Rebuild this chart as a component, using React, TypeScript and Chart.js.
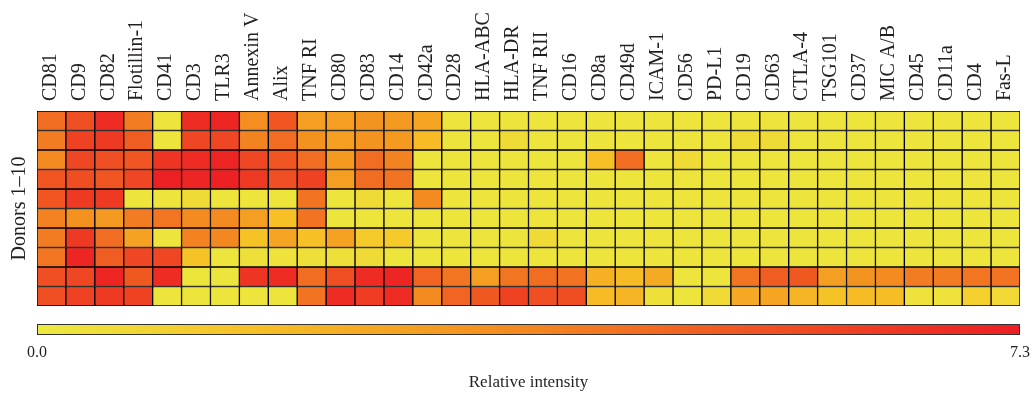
import React, { useEffect, useRef } from "react";
import { Chart, registerables } from "chart.js";

Chart.register(...registerables);

const markers = [
  "CD81", "CD9", "CD82", "Flotillin-1", "CD41", "CD3", "TLR3", "Annexin V", "Alix", "TNF RI",
  "CD80", "CD83", "CD14", "CD42a", "CD28", "HLA-ABC", "HLA-DR", "TNF RII", "CD16", "CD8a",
  "CD49d", "ICAM-1", "CD56", "PD-L1", "CD19", "CD63", "CTLA-4", "TSG101", "CD37", "MIC A/B",
  "CD45", "CD11a", "CD4", "Fas-L",
];

const donorNames = ["Donor 1", "Donor 2", "Donor 3", "Donor 4", "Donor 5", "Donor 6", "Donor 7", "Donor 8", "Donor 9", "Donor 10"];

const donor1 = [4.5, 5.5, 6.8, 4.0, 0.2, 6.8, 7.0, 3.4, 5.3, 2.8, 2.8, 3.2, 3.0, 2.6, 0.2, 0.2, 0.2, 0.2, 0.2, 0.2, 0.2, 0.2, 0.2, 0.2, 0.2, 0.2, 0.2, 0.2, 0.2, 0.2, 0.2, 0.2, 0.2, 0.2];
const donor2 = [4.0, 6.0, 6.3, 5.0, 0.2, 5.8, 5.8, 3.8, 4.5, 3.3, 2.8, 3.2, 3.0, 1.8, 0.2, 0.2, 0.6, 0.2, 0.2, 0.2, 0.2, 0.2, 0.2, 0.2, 0.6, 0.6, 0.2, 0.2, 0.2, 0.2, 0.2, 0.2, 0.2, 0.2];
const donor3 = [3.5, 5.8, 5.5, 5.3, 6.5, 6.8, 7.0, 5.8, 5.3, 4.5, 3.0, 4.5, 3.8, 0.2, 0.2, 0.2, 0.2, 0.2, 0.2, 1.6, 4.5, 0.2, 0.6, 0.2, 0.2, 0.2, 0.2, 0.2, 0.2, 0.2, 0.2, 0.2, 0.2, 0.2];
const donor4 = [5.3, 5.6, 5.3, 5.8, 7.2, 7.0, 7.2, 6.3, 5.5, 6.0, 2.8, 4.5, 4.3, 0.2, 0.2, 0.2, 0.2, 0.2, 0.2, 0.2, 0.2, 0.2, 0.2, 0.2, 0.2, 0.2, 0.2, 0.2, 0.2, 0.2, 0.2, 0.2, 0.2, 0.2];
const donor5 = [5.3, 6.3, 6.3, 0.2, 0.2, 0.6, 0.2, 0.2, 0.2, 4.3, 0.2, 0.6, 0.2, 3.5, 0.2, 0.2, 0.2, 0.2, 0.2, 0.2, 0.2, 0.2, 0.2, 0.2, 0.2, 0.2, 0.2, 0.2, 0.2, 0.2, 0.2, 0.2, 0.2, 0.2];
const donor6 = [3.8, 3.3, 3.0, 4.0, 4.2, 3.5, 3.5, 2.8, 1.6, 4.3, 0.2, 0.2, 0.2, 0.2, 0.2, 0.2, 0.2, 0.2, 0.2, 0.2, 0.2, 0.2, 0.2, 0.2, 0.2, 0.2, 0.2, 0.2, 0.2, 0.2, 0.2, 0.2, 0.2, 0.2];
const donor7 = [4.0, 6.3, 4.5, 2.7, 0.2, 3.8, 3.6, 1.5, 2.6, 1.6, 2.7, 1.2, 1.2, 0.2, 0.2, 0.2, 0.2, 0.6, 0.2, 0.2, 0.2, 0.2, 0.2, 0.2, 0.2, 0.2, 0.2, 0.2, 0.2, 0.2, 0.2, 0.2, 0.2, 0.2];
const donor8 = [4.2, 7.0, 5.0, 5.8, 5.8, 1.5, 0.2, 0.4, 0.3, 0.4, 0.4, 0.6, 0.2, 0.2, 0.2, 0.2, 0.2, 0.2, 0.2, 0.2, 0.2, 0.2, 0.2, 0.2, 0.2, 0.2, 0.2, 0.2, 0.2, 0.2, 0.2, 0.2, 0.2, 0.2];
const donor9 = [5.5, 5.8, 7.0, 5.2, 6.8, 0.2, 0.2, 6.5, 6.8, 4.5, 5.5, 6.8, 7.0, 4.8, 4.2, 2.8, 4.2, 4.5, 4.3, 2.2, 1.8, 2.4, 0.2, 0.2, 4.2, 5.0, 5.2, 2.8, 3.2, 3.5, 4.0, 4.0, 4.2, 4.3];
const donor10 = [5.5, 6.0, 6.3, 6.0, 0.2, 0.2, 0.2, 0.2, 0.2, 4.3, 6.8, 6.2, 6.8, 3.5, 4.8, 5.2, 6.0, 5.5, 5.6, 1.8, 2.0, 0.4, 0.2, 0.6, 2.5, 2.6, 2.0, 1.5, 1.8, 1.7, 0.3, 0.3, 1.0, 0.7];

const donorRows = [donor1, donor2, donor3, donor4, donor5, donor6, donor7, donor8, donor9, donor10];

const scaleMin = 0;
const scaleMax = 7.3;
const colorbarTicks = ["0.0", "7.3"];

// colour ramp stops (fraction of range, rgb)
const rampStops: [number, number[]][] = [
  [0, [236, 234, 64]],
  [0.2, [246, 196, 38]],
  [0.45, [244, 146, 32]],
  [0.7, [240, 90, 34]],
  [1, [237, 30, 36]],
];

function colorFor(v: number): string {
  const t = Math.max(0, Math.min(1, (v - scaleMin) / (scaleMax - scaleMin)));
  for (let i = 1; i < rampStops.length; i++) {
    const [t1, c1] = rampStops[i];
    const [t0, c0] = rampStops[i - 1];
    if (t <= t1) {
      const f = (t - t0) / (t1 - t0);
      const c = c0.map((a, k) => Math.round(a + (c1[k] - a) * f));
      return `rgb(${c[0]},${c[1]},${c[2]})`;
    }
  }
  const c = rampStops[rampStops.length - 1][1];
  return `rgb(${c[0]},${c[1]},${c[2]})`;
}

const SERIF = "'Liberation Serif', 'Times New Roman', serif";

const colorbarPlugin = {
  id: "colorbar",
  afterDraw(chart: any) {
    const { ctx, chartArea } = chart;
    const x0 = chartArea.left;
    const x1 = chartArea.right;
    const y0 = chartArea.bottom + 18;
    const h = 11;
    ctx.save();
    const g = ctx.createLinearGradient(x0, 0, x1, 0);
    rampStops.forEach(([t, c]) => g.addColorStop(t, `rgb(${c[0]},${c[1]},${c[2]})`));
    ctx.fillStyle = g;
    ctx.fillRect(x0, y0, x1 - x0, h);
    ctx.strokeStyle = "#333";
    ctx.lineWidth = 1;
    ctx.strokeRect(x0 + 0.5, y0 + 0.5, x1 - x0 - 1, h - 1);
    ctx.fillStyle = "#231f20";
    ctx.font = `16px ${SERIF}`;
    ctx.textAlign = "center";
    ctx.textBaseline = "middle";
    ctx.fillText(colorbarTicks[0], x0, y0 + h + 18);
    ctx.fillText(colorbarTicks[1], x1, y0 + h + 18);
    ctx.font = `17px ${SERIF}`;
    ctx.fillText("Relative intensity", (x0 + x1) / 2, y0 + h + 48);
    ctx.restore();
  },
};

export default function App() {
  const ref = useRef<HTMLCanvasElement | null>(null);

  useEffect(() => {
    if (!ref.current) return;
    const datasets = donorRows.map((row, r) => ({
      label: donorNames[r],
      data: row.map(() => [r, r + 1]),
      backgroundColor: row.map(colorFor),
      borderColor: "#000",
      borderWidth: 1,
      borderSkipped: false,
      categoryPercentage: 1,
      barPercentage: 1,
      grouped: false,
    }));
    const chart = new Chart(ref.current, {
      type: "bar",
      data: { labels: markers, datasets: datasets as any },
      options: {
        animation: false,
        responsive: true,
        maintainAspectRatio: false,
        layout: { padding: { left: 0, right: 15, top: 0, bottom: 92 } },
        plugins: { legend: { display: false }, tooltip: { enabled: false } },
        scales: {
          x: {
            type: "category",
            position: "top",
            grid: { display: false, drawTicks: false },
            border: { display: false },
            ticks: {
              autoSkip: false,
              maxRotation: 90,
              minRotation: 90,
              padding: 10,
              labelOffset: 23,
              color: "#231f20",
              font: { family: SERIF, size: 20 },
            },
            afterFit: (s: any) => { s.height = 111; },
          },
          y: {
            type: "linear",
            min: 0,
            max: 10,
            reverse: true,
            grid: { display: false, drawTicks: false },
            border: { display: false },
            ticks: { display: false },
            title: {
              display: true,
              text: "Donors 1–10",
              color: "#231f20",
              font: { family: SERIF, size: 20 },
              padding: { top: 8, bottom: 0 },
            },
            afterFit: (s: any) => { s.width = 37; },
          },
        },
      },
      plugins: [colorbarPlugin],
    });
    return () => chart.destroy();
  }, []);

  return (
    <div style={{ position: "fixed", left: 0, top: 0, width: 1035, height: 398, background: "#fff" }}>
      <canvas ref={ref} />
    </div>
  );
}
